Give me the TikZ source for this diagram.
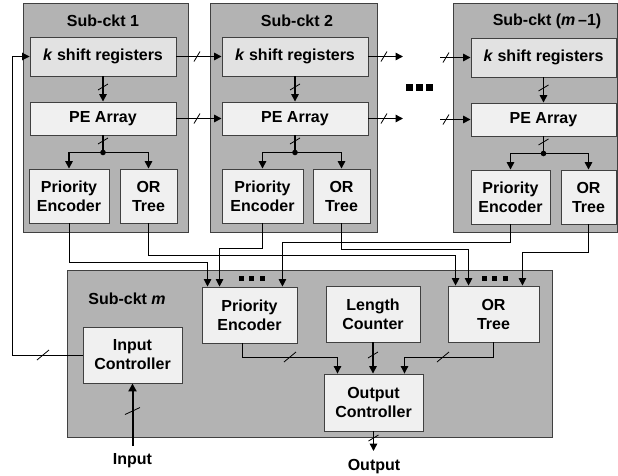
\documentclass[tikz,border=0pt]{standalone}
\usepackage{fontspec}
\setmainfont{Liberation Sans}
\usetikzlibrary{arrows.meta,calc}
\definecolor{outergray}{HTML}{B3B3B3}
\definecolor{bordergray}{HTML}{404040}
\definecolor{lightfill}{HTML}{F0F0F0}
\definecolor{srfill}{HTML}{E2E2E2}
\tikzset{
  outer/.style={draw=bordergray, fill=outergray, line width=1pt, inner sep=0pt},
  inner/.style={draw=bordergray, fill=lightfill, line width=0.9pt, inner sep=0pt, align=center},
  box/.style 2 args={minimum width=#1pt, minimum height=#2pt},
  conn/.style={line width=1.5pt, -{Triangle[length=7.5pt,width=7.5pt]}},
  wire/.style={line width=1pt, -{Triangle[length=7.5pt,width=7.5pt]}},
  plainline/.style={line width=1.5pt},
  sh/.pic={\draw[line width=0.8pt] (-3pt,-5pt) -- (3pt,5pt);},
  sv/.pic={\draw[line width=0.8pt] (-5pt,-3pt) -- (5pt,3pt);},
  sl/.pic={\draw[line width=0.8pt] (-6pt,-5pt) -- (6pt,5pt);},
  svl/.pic={\draw[line width=0.8pt] (-7.5pt,-3.5pt) -- (7.5pt,3.5pt);},
}
\begin{document}
\begin{tikzpicture}[x=1pt,y=-1pt,font=\fontsize{16}{19}\selectfont\bfseries]
\useasboundingbox (0,0) rectangle (618,475);
% outer boxes
\node[outer, box={165}{229}] (sc1) at (105.5,117.5) {};
\node[outer, box={167}{229}] (sc2) at (293.5,117.5) {};
\node[outer, box={164}{229}] (sc3) at (535,118) {};
\node[outer, box={485}{167}] (scm) at (309.5,353.5) {};
% labels
\node (l1) at (103,21) {Sub-ckt 1};
\node (l2) at (297,21) {Sub-ckt 2};
\node (l3) at (547,21) {Sub-ckt (\textit{m}\,–1)};
\node (l4) at (127,299) {Sub-ckt \textit{m}};
% sub-ckt 1
\node[inner, fill=srfill, box={146}{39}] (sr1) at (103,56.5) {\textit{k} shift registers};
\node[inner, box={146}{33}] (pe1) at (103,118.5) {PE Array};
\node[inner, box={80}{54}] (pr1) at (69,196) {Priority\\Encoder};
\node[inner, box={57}{54}] (or1) at (148.5,196) {OR\\Tree};
% sub-ckt 2
\node[inner, fill=srfill, box={146}{39}] (sr2) at (295,56.5) {\textit{k} shift registers};
\node[inner, box={146}{33}] (pe2) at (295,118.5) {PE Array};
\node[inner, box={81}{54}] (pr2) at (262.5,196) {Priority\\Encoder};
\node[inner, box={57}{54}] (or2) at (341.5,196) {OR\\Tree};
% sub-ckt m-1
\node[inner, fill=srfill, box={145}{39}] (sr3) at (543.5,57.5) {\textit{k} shift registers};
\node[inner, box={145}{33}] (pe3) at (543.5,119.5) {PE Array};
\node[inner, box={79}{54}] (pr3) at (510.5,197) {Priority\\Encoder};
\node[inner, box={55}{54}] (or3) at (588.5,197) {OR\\Tree};
% sub-ckt m
\node[inner, box={99}{56}] (ic) at (132.5,355) {Input\\Controller};
\node[inner, box={95}{56}] (prm) at (249.5,315) {Priority\\Encoder};
\node[inner, box={94}{56}] (lc) at (373,314) {Length\\Counter};
\node[inner, box={91}{56}] (orm) at (493.5,314) {OR\\Tree};
\node[inner, box={99}{57}] (oc) at (373.5,402.5) {Output\\Controller};
\node (inl) at (132.5,461) {Input};
\node (outl) at (374,467) {Output};
% internal sub-circuit wiring
\foreach \i in {1,2,3}{
  \draw[conn] (sr\i.south) -- (pe\i.north);
  \coordinate (d\i) at ([yshift=-17pt]pe\i.south);
  \draw[plainline] (pe\i.south) -- (d\i);
  \fill (d\i) circle (2.8pt);
  \draw[conn] (d\i) -| (pr\i.north);
  \draw[conn] (d\i) -| (or\i.north);
}
% chain between sub-circuits
\draw[conn] (sr1.east) -- (sr2.west);
\draw[conn] (pe1.east) -- (pe2.west);
\coordinate (a1) at (403,56.5);
\coordinate (a2) at (403,118.5);
\draw[conn] (sr2.east) -- (a1);
\draw[conn] (pe2.east) -- (a2);
\coordinate (b1) at (440,57.5);
\coordinate (b2) at (440,119.5);
\draw[conn] (b1) -- (sr3.west);
\draw[conn] (b2) -- (pe3.west);
% ellipses
\foreach \x in {405.5,415.5,425.5}{\fill (\x,83.5) rectangle ++(7,7);}
\foreach \x in {238.5,248.5,259.5}{\fill (\x,276) rectangle ++(5,5);}
\foreach \x in {482,492,502.5}{\fill (\x,276) rectangle ++(5,5);}
% wiring to sub-ckt m
\draw[wire] (pr1.south) -- ++(0,39) -| ([xshift=6pt]prm.north west);
\draw[wire] (or1.south) -- ++(0,32) -| ([xshift=8pt]orm.north west);
\draw[wire] (pr2.south) -- ++(0,25) -| ([xshift=18pt]prm.north west);
\draw[wire] (or2.south) -- ++(0,26) -| ([xshift=21pt]orm.north west);
\draw[wire] (pr3.south) -- ++(0,18) -| ([xshift=-15pt]prm.north east);
\draw[wire] (or3.south) -- ++(0,28) -| ([xshift=-17pt]orm.north east);
% feedback
\draw[wire] (ic.west) -- ++(-70,0) |- (sr1.west);
% sub-ckt m internals
\draw[wire] ([xshift=-7pt]prm.south) -- ++(0,14) -| ([xshift=-36pt]oc.north);
\draw[conn] (lc.south) -- (lc.south |- oc.north);
\draw[wire] (orm.south) -- ++(0,15) -| ([xshift=31pt]oc.north);
\coordinate (inp) at (132.5,446);
\draw[line width=2pt, -{Triangle[length=8pt,width=8pt]}] (inp) -- (ic.south);
\coordinate (outp) at (373.5,451);
\draw[conn] (oc.south) -- (outp);
% slashes
\foreach \p in {(197,56.5),(197,118.5),(384,56.5),(384,118.5),(446,57.5),(446,119.5)}{\pic at \p {sh};}
\foreach \p in {(103,87),(295,87),(543.5,88),(103,141),(295,141),(543.5,142),(373,355),(373.5,438)}{\pic at \p {sv};}
\foreach \p in {(43,355),(290,357),(443,357)}{\pic at \p {sl};}
\pic at (132.5,411) {svl};
\end{tikzpicture}
\end{document}
